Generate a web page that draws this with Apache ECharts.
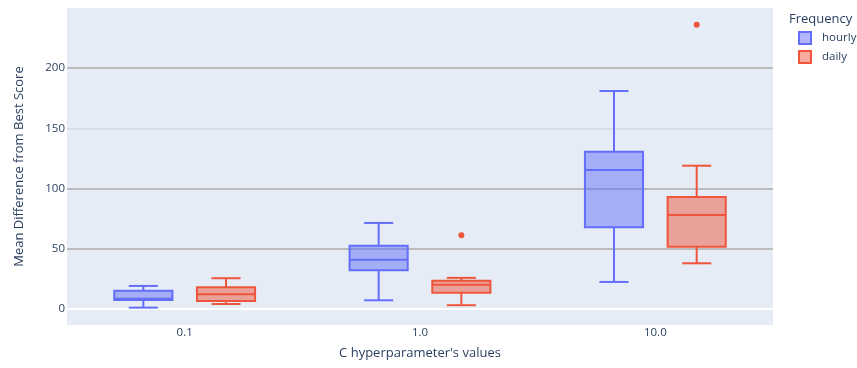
<!DOCTYPE html>
<html>
<head>
<meta charset="utf-8">
<script src="https://cdn.jsdelivr.net/npm/echarts@6/dist/echarts.min.js"></script>
<style>html,body{margin:0;padding:0;background:#fff}#chart{width:857px;height:368px}</style>
</head>
<body>
<div id="chart"></div>
<script>
// Data
const categories = ['0.1', '1.0', '10.0'];
// [min whisker, Q1, median, Q3, max whisker]
const hourlyStats = [
  [1.1, 7.5, 8.5, 15.2, 19.1],
  [7.2, 32.1, 40.8, 52.5, 71.4],
  [22.4, 67.8, 115.4, 130.5, 180.9]
];
const dailyStats = [
  [4.1, 6.6, 12.2, 18.0, 25.5],
  [3.1, 13.4, 20.0, 23.4, 25.8],
  [37.9, 51.7, 78.0, 93.0, 118.9]
];
// [category index, value]
const dailyOutliers = [
  [1, 61.2],
  [2, 236.0]
];
const hourlyOutliers = [];

const FONT = 'Open Sans';
const TEXT = '#2a3f5f';
const HOURLY = '#636efa';
const DAILY = '#EF553B';
const BOX_OFFSET = 0.1757;  // fraction of band width
const BOX_WIDTH = 0.247;    // fraction of band width

function boxData(stats) {
  return stats.map((s, i) => [i].concat(s));
}

function makeBoxRender(color, fill, sign) {
  return function (params, api) {
    const cat = api.value(0);
    const band = api.size([1, 0])[0];
    const cx = api.coord([cat, 0])[0] + sign * BOX_OFFSET * band;
    const w = BOX_WIDTH * band;
    const cap = w / 2;
    const y = k => api.coord([cat, api.value(k)])[1];
    const yMin = y(1), yQ1 = y(2), yMed = y(3), yQ3 = y(4), yMax = y(5);
    const ls = { stroke: color, lineWidth: 2, fill: null };
    return {
      type: 'group',
      children: [
        { type: 'line', shape: { x1: cx, y1: yMin, x2: cx, y2: yQ1 }, style: ls },
        { type: 'line', shape: { x1: cx, y1: yQ3, x2: cx, y2: yMax }, style: ls },
        { type: 'line', shape: { x1: cx - cap / 2, y1: yMin, x2: cx + cap / 2, y2: yMin }, style: ls },
        { type: 'line', shape: { x1: cx - cap / 2, y1: yMax, x2: cx + cap / 2, y2: yMax }, style: ls },
        { type: 'rect', shape: { x: cx - w / 2, y: yQ3, width: w, height: yQ1 - yQ3 },
          style: { fill: fill, stroke: color, lineWidth: 2 } },
        { type: 'line', shape: { x1: cx - w / 2, y1: yMed, x2: cx + w / 2, y2: yMed }, style: ls }
      ]
    };
  };
}

function makeOutlierRender(color, sign) {
  return function (params, api) {
    const cat = api.value(0);
    const band = api.size([1, 0])[0];
    const p = api.coord([cat, api.value(1)]);
    return {
      type: 'circle',
      shape: { cx: p[0] + sign * BOX_OFFSET * band, cy: p[1], r: 3 },
      style: { fill: color }
    };
  };
}

const chart = echarts.init(document.getElementById('chart'), null, { renderer: 'canvas' });
chart.setOption({
  animation: false,
  backgroundColor: '#ffffff',
  textStyle: { fontFamily: FONT },
  title: {
    text: 'Frequency',
    left: 789, top: 13, padding: 0,
    textStyle: { fontFamily: FONT, fontSize: 13, fontWeight: 'normal', color: TEXT }
  },
  legend: {
    orient: 'vertical',
    left: 798, top: 31, padding: 0,
    itemWidth: 12, itemHeight: 12, itemGap: 5,
    icon: 'rect',
    textStyle: { fontFamily: FONT, fontSize: 11.5, color: TEXT, padding: [0, 0, 0, 6] },
    data: [
      { name: 'hourly', itemStyle: { color: 'rgba(99,110,250,0.5)', borderColor: HOURLY, borderWidth: 2 } },
      { name: 'daily', itemStyle: { color: 'rgba(239,85,59,0.5)', borderColor: DAILY, borderWidth: 2 } }
    ]
  },
  grid: {
    left: 67, right: 84, top: 9, bottom: 44,
    show: true, backgroundColor: '#e5ecf6', borderWidth: 0
  },
  xAxis: {
    type: 'category',
    data: categories,
    boundaryGap: true,
    name: "C hyperparameter's values",
    nameLocation: 'middle',
    nameGap: 23,
    nameTextStyle: { fontFamily: FONT, fontSize: 13, color: TEXT, verticalAlign: 'top' },
    axisLine: { show: false },
    axisTick: { show: false },
    axisLabel: { fontFamily: FONT, fontSize: 11.5, color: TEXT, margin: 3 },
    splitLine: { show: false }
  },
  yAxis: {
    type: 'value',
    min: -12.5, max: 249,
    name: 'Mean Difference from Best Score',
    nameLocation: 'middle',
    nameGap: 41,
    nameTextStyle: { fontFamily: FONT, fontSize: 13, color: TEXT },
    axisLine: { show: false },
    axisTick: { show: false },
    axisLabel: {
      fontFamily: FONT, fontSize: 11.5, color: TEXT, margin: 2,
      showMinLabel: false, showMaxLabel: false,
      formatter: v => (Math.abs(v % 50) < 1e-6 ? String(v) : '')
    },
    splitLine: {
      show: true,
      lineStyle: { width: 2, color: ['#e5ecf6', '#ffffff', '#bbbbbb', '#bbbbbb', '#d9dce2', '#bbbbbb', '#e5ecf6'] }
    }
  },
  series: [
    {
      name: 'hourly', type: 'custom',
      itemStyle: { color: HOURLY },
      renderItem: makeBoxRender(HOURLY, 'rgba(99,110,250,0.5)', -1),
      encode: { x: 0, y: [1, 2, 3, 4, 5] },
      data: boxData(hourlyStats), z: 3
    },
    {
      name: 'daily', type: 'custom',
      itemStyle: { color: DAILY },
      renderItem: makeBoxRender(DAILY, 'rgba(239,85,59,0.5)', 1),
      encode: { x: 0, y: [1, 2, 3, 4, 5] },
      data: boxData(dailyStats), z: 3
    },
    {
      name: 'hourly', type: 'custom',
      itemStyle: { color: HOURLY },
      renderItem: makeOutlierRender(HOURLY, -1),
      encode: { x: 0, y: 1 },
      data: hourlyOutliers, z: 4
    },
    {
      name: 'daily', type: 'custom',
      itemStyle: { color: DAILY },
      renderItem: makeOutlierRender(DAILY, 1),
      encode: { x: 0, y: 1 },
      data: dailyOutliers, z: 4
    }
  ]
});
</script>
</body>
</html>
